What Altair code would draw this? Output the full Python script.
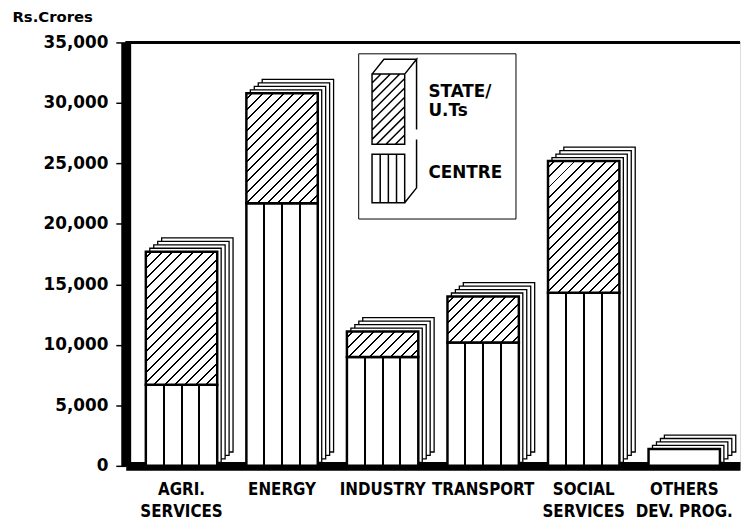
import altair as alt
import pandas as pd

# ---------------- data ----------------
categories = ["AGRI.\nSERVICES", "ENERGY", "INDUSTRY", "TRANSPORT",
              "SOCIAL\nSERVICES", "OTHERS\nDEV. PROG."]
centre = [6700, 21700, 9000, 10200, 14300, 1400]
state = [11000, 9100, 2100, 3800, 10900, 0]
series_names = ["STATE/ U.Ts", "CENTRE"]
y_ticks = [0, 5000, 10000, 15000, 20000, 25000, 30000, 35000]
y_max = 35000

# ---------------- layout / style ----------------
PW, PH = 621, 428
PAD_IN, PAD_OUT = 0.29, 0.2
step = PW / (len(categories) - PAD_IN + 2 * PAD_OUT)
bw = step * (1 - PAD_IN)
NUM_FONT = "DejaVu Sans"
CAT_FONT = "DejaVu Sans Condensed, Liberation Sans Narrow, Roboto Condensed, Roboto, sans-serif"


def hatch(w, h, spacing=10.5, thick=2.0):
    """Diagonal '/' stripes as a sharp-stop linear gradient."""
    L = w + h
    s = L / (w * w + h * h)
    stops = [{"offset": 0, "color": "white"}]
    c = spacing * 0.6
    while c < L:
        a = max(0.0, (c - thick / 2) / L)
        b = min(1.0, (c + thick / 2) / L)
        stops += [{"offset": a, "color": "white"}, {"offset": a, "color": "black"},
                  {"offset": b, "color": "black"}, {"offset": b, "color": "white"}]
        c += spacing
    stops.append({"offset": 1, "color": "white"})
    return {"gradient": "linear", "x1": 0, "y1": 0, "x2": s * w, "y2": s * h, "stops": stops}


def columns(w, n=4, thick=2.0):
    stops = [{"offset": 0, "color": "white"}]
    for k in range(1, n):
        m = k / n
        a, b = m - thick / 2 / w, m + thick / 2 / w
        stops += [{"offset": a, "color": "white"}, {"offset": a, "color": "black"},
                  {"offset": b, "color": "black"}, {"offset": b, "color": "white"}]
    stops.append({"offset": 1, "color": "white"})
    return {"gradient": "linear", "x1": 0, "y1": 0, "x2": 1, "y2": 0, "stops": stops}


def path(parts, unit=25.0):
    out = []
    for pts, closed in parts:
        seg = "M" + " L".join(f"{x / unit:.3f},{y / unit:.3f}" for x, y in pts)
        if closed:
            seg += " Z"
        out.append(seg)
    return " ".join(out)


# legend symbols (pixel geometry relative to each entry's first label line)
lx0, lx1, dx, dy = -25, 8, 12, -15
st_top, st_bot = -18, 53
st_parts = [([(lx0, st_top), (lx1, st_top), (lx1, st_bot), (lx0, st_bot)], True),
            ([(lx0, st_top), (lx0 + dx, st_top + dy), (lx1 + dx, st_top + dy), (lx1, st_top)], False),
            ([(lx1, st_top), (lx1 + dx, st_top + dy), (lx1 + dx, st_bot + dy)], False)]
c = lx0 + st_top + 9
while c < lx1 + st_bot:
    xa = max(lx0, c - st_bot)
    xb = min(lx1, c - st_top)
    if xb - xa > 1:
        st_parts.append(([(xa, c - xa), (xb, c - xb)], False))
    c += 9.5
ce_top, ce_bot = -19, 30
ce_parts = [([(lx0, ce_top), (lx1, ce_top), (lx1, ce_bot), (lx0, ce_bot)], True),
            ([(lx1 + dx, ce_top + dy), (lx1 + dx, ce_bot + dy), (lx1, ce_bot)], False)]
for k in range(1, 4):
    xv = lx0 + (lx1 - lx0) * k / 4
    ce_parts.append(([(xv, ce_top), (xv, ce_bot)], False))
state_symbol = path(st_parts)
centre_symbol = path(ce_parts)

# ---------------- chart ----------------
df = pd.DataFrame({"category": categories, "centre": centre, "state": state})
base = alt.Chart(df).transform_calculate(total="datum.centre + datum.state")

x_axis = alt.Axis(title=None, labelExpr="split(datum.label, '\\n')", labelAngle=0,
                  labelFont=CAT_FONT, labelFontSize=17, labelFontWeight="bold",
                  labelColor="black", labelLineHeight=22, labelPadding=16,
                  labelBaseline="top", ticks=False, domainColor="black", domainWidth=9)
y_axis = alt.Axis(values=y_ticks, format=",.0f", grid=False,
                  title="Rs.Crores", titleAngle=0, titleX=-115, titleY=-18,
                  titleAlign="left", titleBaseline="bottom", titleFont=NUM_FONT,
                  titleFontSize=15, titleFontWeight="bold", titleColor="black",
                  labelFont=NUM_FONT, labelFontSize=17, labelFontWeight="bold",
                  labelColor="black", tickSize=10, tickColor="black", tickWidth=1.5,
                  labelPadding=8, domainColor="black", domainWidth=10)
xenc = alt.X("category:N", sort=categories,
             scale=alt.Scale(paddingInner=PAD_IN, paddingOuter=PAD_OUT), axis=x_axis)
yscale = alt.Scale(domain=[0, y_max], nice=False, zero=True)

layers = []
# depth copies (3-D side and top)
for k in range(4, 0, -1):
    layers.append(base.mark_bar(fill="white", stroke="black", strokeWidth=1.3,
                                xOffset=4 * k, yOffset=-3.5 * k)
                  .encode(x=xenc, y=alt.Y("total:Q", scale=yscale, axis=y_axis)))
# centre part (front face)
layers.append(base.transform_filter("datum.state > 0")
              .mark_bar(fill=columns(bw), stroke="black", strokeWidth=2.5)
              .encode(x=xenc, y=alt.Y("centre:Q", scale=yscale, axis=y_axis)))
layers.append(base.transform_filter("datum.state <= 0")
              .mark_bar(fill="white", stroke="black", strokeWidth=2.5)
              .encode(x=xenc, y=alt.Y("centre:Q", scale=yscale, axis=y_axis)))
# state part (front face, hatched)
for cat, sv in zip(categories, state):
    if sv <= 0:
        continue
    h = sv * PH / y_max
    layers.append(base.transform_filter(alt.FieldEqualPredicate(field="category", equal=cat))
                  .mark_bar(fill=hatch(bw, h), stroke="black", strokeWidth=2.5)
                  .encode(x=xenc, y=alt.Y("total:Q", scale=yscale, axis=y_axis),
                          y2="centre:Q"))
# frame top line
layers.append(alt.Chart(df).mark_rule(stroke="black", strokeWidth=2)
              .encode(y=alt.Y(datum=y_max, scale=yscale, axis=y_axis)))
# legend carrier (invisible points)
legend = alt.Legend(title=None, orient="none", legendX=235, legendY=11,
                    symbolSize=2500, symbolFillColor="white", symbolStrokeColor="black",
                    symbolStrokeWidth=1.5, symbolOpacity=1,
                    labelFont=NUM_FONT, labelFontSize=17, labelFontWeight="bold",
                    labelColor="black", labelExpr="split(datum.label, ' ')",
                    labelLimit=0, labelOffset=6, rowPadding=-23,
                    padding=13, strokeColor="black", fillColor="white")
layers.append(base.transform_fold(["state", "centre"], as_=["series", "v"])
              .transform_calculate(label="datum.series == 'state' ? 'STATE/ U.Ts' : 'CENTRE'")
              .mark_point(opacity=0)
              .encode(x=xenc, y=alt.Y("v:Q", scale=yscale, axis=y_axis),
                      shape=alt.Shape("label:N",
                                      scale=alt.Scale(domain=series_names,
                                                      range=[state_symbol, centre_symbol]),
                                      legend=legend)))

chart = (alt.layer(*layers)
         .properties(width=PW, height=PH, autosize=alt.AutoSizeParams(type="none"),
                     padding={"left": 119, "top": 32, "right": 4, "bottom": 58})
         .configure_view(stroke=None)
         .configure(background="white"))

chart.save("out.html", embed_options={"renderer": "svg", "actions": False})
